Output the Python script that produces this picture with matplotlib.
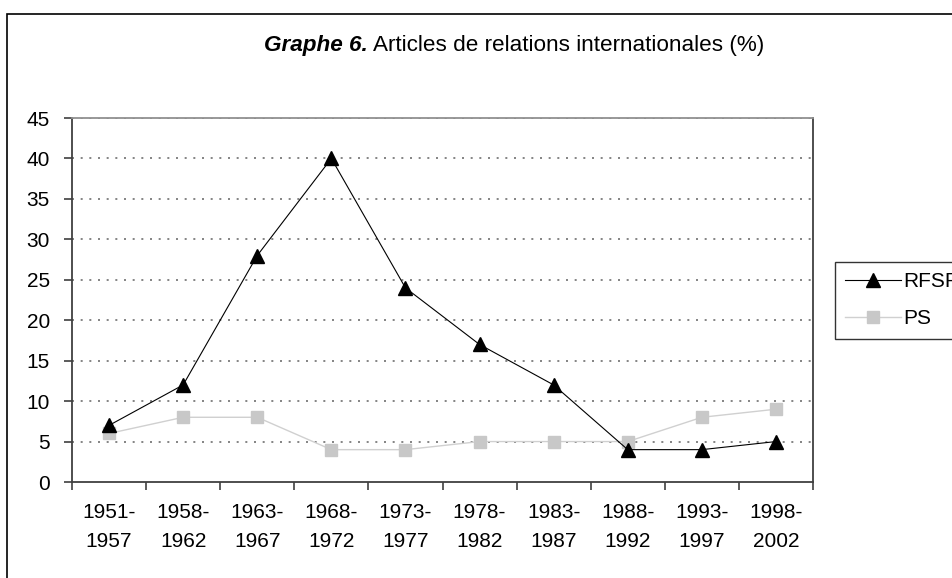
import matplotlib
matplotlib.use('Agg')
from matplotlib import pyplot as plt
from matplotlib.patches import Rectangle

plt.rcParams['font.family'] = ['Liberation Sans', 'DejaVu Sans']

# data
periods = ['1951-\n1957', '1958-\n1962', '1963-\n1967', '1968-\n1972',
           '1973-\n1977', '1978-\n1982', '1983-\n1987', '1988-\n1992',
           '1993-\n1997', '1998-\n2002']
rfsp = [7, 12, 28, 40, 24, 17, 12, 4, 4, 5]
ps = [6, 8, 8, 4, 4, 5, 5, 5, 8, 9]
yticks = list(range(0, 50, 5))

W, H = 953, 578
FS = 15
fig = plt.figure(figsize=(W / 100, H / 100), dpi=100)

# outer chart-area frame (runs off the right and bottom edges)
frame = Rectangle((7 / W, -0.1), 1.2, 1 - 14 / H + 0.1,
                  transform=fig.transFigure, fill=False,
                  edgecolor='black', linewidth=1.2)
fig.patches.append(frame)

ax = fig.add_axes([72 / W, 1 - 482 / H, (813 - 72) / W, (482 - 118) / H])

x = list(range(len(periods)))
ax.plot(x, rfsp, color='black', linewidth=0.8, marker='^',
        markersize=10, markerfacecolor='black', markeredgecolor='black',
        label='RFSP', zorder=4)
ax.plot(x, ps, color='#d0d0d0', linewidth=1.0, marker='s',
        markersize=8, markerfacecolor='#c8c8c8', markeredgecolor='#c8c8c8',
        label='PS', zorder=3)

ax.set_xlim(-0.5, len(periods) - 0.5)
ax.set_ylim(0, 45)

# category ticks sit on the boundaries, labels centred on the points
ax.set_xticks([i - 0.5 for i in range(len(periods) + 1)])
ax.set_xticklabels([])
ax.set_xticks(x, minor=True)
ax.set_xticklabels(periods, minor=True, fontsize=FS, linespacing=1.7)
ax.tick_params(axis='x', which='minor', length=0, pad=15)
ax.tick_params(axis='x', which='major', direction='out', length=6,
               width=1.2, color='#404040')

ax.set_yticks(yticks)
ax.set_yticklabels([str(v) for v in yticks], fontsize=FS)
ax.tick_params(axis='y', direction='out', length=6, width=1.2,
               color='#404040', pad=10)

for v in yticks[1:]:
    ax.axhline(v, color='#707070', linestyle=(0, (1.2, 4)), linewidth=1.2,
               zorder=1)

for side in ['left', 'bottom', 'right', 'top']:
    ax.spines[side].set_color('#404040')
    ax.spines[side].set_linewidth(1.3)
ax.spines['top'].set_color('#909090')

# title: bold italic lead-in followed by plain text, centred on x=514
ty = 1 - 46 / H
t1 = fig.text(0, ty, 'Graphe 6.', ha='left', va='center',
              fontsize=16.2, fontweight='bold', fontstyle='italic')
t2 = fig.text(0, ty, 'Articles de relations internationales (%)',
              ha='left', va='center', fontsize=16.2)
fig.canvas.draw()
w1 = t1.get_window_extent().width
w2 = t2.get_window_extent().width
gap = 6
x0 = 514 - (w1 + gap + w2) / 2
t1.set_x(x0 / W)
t2.set_x((x0 + w1 + gap) / W)

leg = fig.legend(loc='upper left', bbox_to_anchor=(835 / W, 1 - 262 / H),
                 fontsize=FS, frameon=True, fancybox=False,
                 edgecolor='black', borderpad=0.5, handlelength=2.65,
                 handletextpad=0.15, labelspacing=0.85, borderaxespad=0)
leg.get_frame().set_linewidth(1.0)

fig.savefig('out.png', dpi=100)
